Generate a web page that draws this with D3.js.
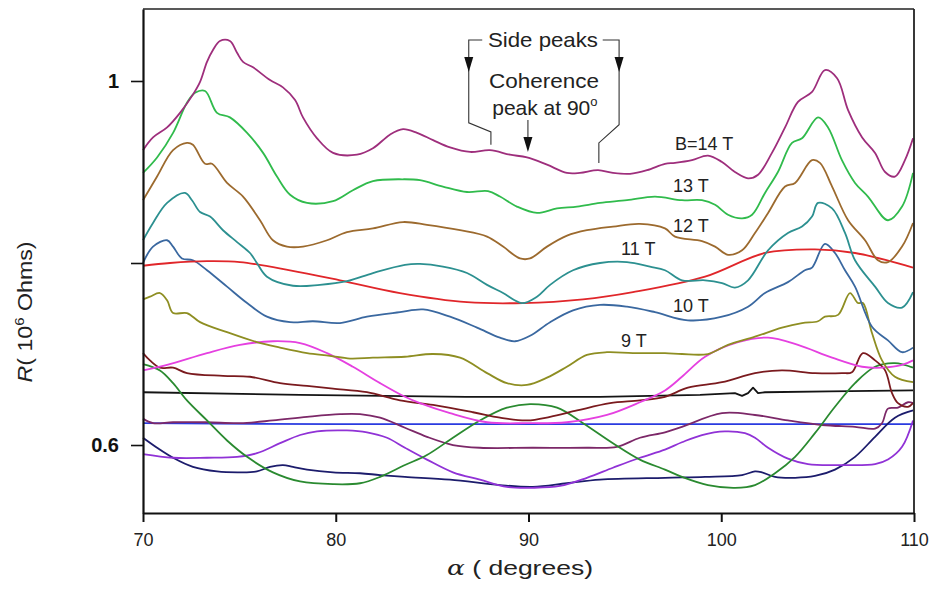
<!DOCTYPE html>
<html><head><meta charset="utf-8">
<script src="https://cdn.jsdelivr.net/npm/d3@7"></script>
<style>
html,body{margin:0;padding:0;background:#fff;}
text{font-family:"Liberation Sans",Arial,sans-serif;}
</style></head>
<body><svg id="chart" width="936" height="592"></svg>
<script>
// ---- data: [angle (deg), R (10^6 Ohms)] ----
const r14T = [[70,0.924],[70.52,0.938],[71.25,0.949],[71.92,0.965],[72.59,0.985],[72.96,0.999],[73.32,1.021],[73.63,1.034],[73.99,1.044],[74.51,1.044],[74.88,1.031],[75.19,1.021],[75.71,1.015],[76.59,1.001],[77.26,0.993],[77.89,0.979],[78.3,0.96],[79.03,0.937],[79.86,0.921],[81.1,0.919],[81.93,0.926],[82.81,0.941],[83.49,0.947],[84.22,0.943],[85.05,0.935],[85.93,0.927],[86.97,0.922],[88,0.924],[89.04,0.919],[89.92,0.916],[90.96,0.908],[91.99,0.899],[92.67,0.899],[93.61,0.902],[94.38,0.899],[95.27,0.898],[96.15,0.902],[97.08,0.909],[97.6,0.91],[98.48,0.913],[99.31,0.918],[100.04,0.911],[100.71,0.9],[101.39,0.893],[101.91,0.897],[102.63,0.921],[103.31,0.949],[103.98,0.977],[104.71,0.988],[105.38,1.012],[106.01,1.003],[106.58,0.968],[107.31,0.938],[107.98,0.921],[108.5,0.9],[109.01,0.895],[109.53,0.913],[109.95,0.937]];
const r13T = [[70,0.899],[70.73,0.916],[71.56,0.943],[72.28,0.976],[72.7,0.987],[73.22,0.989],[73.84,0.965],[74.51,0.96],[75.4,0.943],[76.23,0.921],[76.95,0.895],[77.63,0.875],[78.51,0.866],[79.86,0.868],[80.89,0.88],[81.93,0.89],[83.49,0.892],[84.37,0.891],[85.56,0.884],[86.81,0.878],[87.9,0.879],[88.52,0.873],[89.4,0.862],[90.44,0.855],[91.48,0.86],[92.52,0.862],[93.71,0.866],[95.11,0.869],[96.56,0.873],[97.96,0.869],[99,0.869],[99.68,0.864],[100.35,0.853],[101.08,0.849],[101.6,0.853],[102.27,0.877],[102.94,0.9],[103.67,0.932],[104.19,0.937],[105.02,0.96],[105.54,0.949],[106.26,0.913],[106.94,0.888],[107.61,0.873],[108.65,0.847],[109.38,0.862],[109.95,0.899]];
const r12T = [[70,0.869],[70.73,0.895],[71.56,0.924],[72.28,0.932],[72.59,0.93],[73.22,0.909],[73.58,0.909],[74.36,0.888],[75.19,0.873],[76.07,0.847],[76.74,0.825],[77.47,0.818],[78.3,0.818],[79.55,0.825],[80.58,0.834],[81.93,0.838],[83.49,0.845],[84.73,0.842],[86.45,0.836],[87.85,0.829],[88.68,0.818],[89.56,0.805],[90.08,0.805],[90.96,0.818],[92,0.83],[93.03,0.836],[94.38,0.84],[95.78,0.843],[97.08,0.838],[97.6,0.829],[99,0.824],[99.68,0.818],[100.35,0.809],[101.08,0.814],[101.75,0.833],[102.43,0.855],[103.31,0.884],[103.83,0.888],[104.71,0.913],[105.12,0.91],[105.75,0.884],[106.58,0.847],[107.46,0.825],[108.13,0.803],[108.65,0.801],[109.38,0.818],[109.95,0.844]];
const r11T = [[70,0.825],[70.52,0.844],[71.25,0.866],[72.18,0.877],[72.54,0.869],[72.96,0.856],[73.48,0.851],[74.15,0.836],[74.88,0.823],[75.55,0.811],[75.91,0.8],[76.43,0.785],[77.78,0.775],[79.18,0.776],[80.58,0.78],[81.93,0.789],[83.59,0.798],[84.37,0.799],[85.56,0.796],[86.81,0.789],[87.85,0.776],[88.68,0.767],[89.66,0.756],[90.44,0.763],[91.12,0.776],[92.31,0.792],[93.71,0.8],[95.11,0.801],[96.3,0.796],[97.08,0.792],[97.96,0.781],[99.16,0.781],[100.04,0.778],[100.71,0.773],[101.39,0.781],[102.43,0.814],[103.46,0.833],[104.19,0.84],[104.71,0.851],[105.02,0.866],[105.75,0.86],[106.42,0.833],[106.94,0.803],[107.98,0.774],[108.65,0.756],[109.38,0.751],[109.95,0.768]];
const rRed = [[70,0.797],[71.4,0.8],[73.32,0.802],[75.03,0.801],[77.63,0.792],[80.22,0.781],[83.33,0.767],[86.81,0.757],[89.71,0.756],[92.83,0.76],[95.42,0.768],[99.16,0.785],[102.27,0.811],[104.86,0.815],[106.94,0.811],[109.95,0.795]];
const r10T = [[70,0.8],[70.52,0.818],[71.25,0.825],[71.56,0.818],[72.02,0.805],[72.59,0.803],[73.32,0.792],[74.36,0.774],[75.4,0.756],[76.43,0.741],[77.63,0.735],[78.82,0.736],[80.22,0.734],[81.62,0.741],[83.33,0.746],[84.53,0.749],[85.93,0.741],[87.33,0.729],[88.52,0.718],[89.3,0.714],[90.08,0.72],[91.12,0.735],[92.31,0.748],[93.71,0.754],[95.11,0.752],[96.56,0.746],[98.27,0.737],[100.04,0.741],[101.39,0.752],[102.27,0.767],[103.46,0.779],[104.34,0.792],[104.71,0.795],[105.38,0.821],[105.9,0.811],[106.42,0.792],[106.94,0.774],[107.82,0.73],[108.65,0.715],[109.38,0.702],[109.95,0.707]];
const r9T = [[70,0.76],[70.36,0.763],[70.88,0.767],[71.25,0.759],[71.56,0.745],[72.28,0.745],[72.96,0.735],[74.36,0.724],[75.91,0.713],[77.11,0.707],[78.51,0.701],[79.7,0.698],[80.74,0.695],[81.93,0.696],[83.59,0.697],[85.05,0.7],[86.45,0.696],[87.85,0.679],[88.88,0.668],[89.92,0.666],[90.96,0.674],[91.99,0.686],[93.03,0.699],[94.07,0.702],[95.42,0.701],[97.08,0.701],[97.96,0.7],[99.31,0.7],[100.35,0.71],[101.75,0.719],[103.15,0.729],[104.19,0.734],[105.02,0.736],[105.38,0.741],[106.06,0.743],[106.68,0.767],[107.09,0.756],[107.35,0.756],[107.82,0.723],[108.34,0.693],[109.01,0.675],[109.95,0.669]];
const rMagenta = [[70,0.682],[71.25,0.688],[73.32,0.701],[75.03,0.71],[76.74,0.714],[78.15,0.712],[79.55,0.701],[80.89,0.686],[82.3,0.668],[83.59,0.653],[84.37,0.646],[85.93,0.635],[87.85,0.625],[89.92,0.624],[91.99,0.625],[94.07,0.633],[95.78,0.647],[97.08,0.66],[97.96,0.675],[99.16,0.697],[100.87,0.713],[102.43,0.718],[103.98,0.71],[105.75,0.696],[107.31,0.686],[108.34,0.685],[109.38,0.688],[109.95,0.693]];
const rMaroon = [[70,0.701],[70.36,0.693],[70.88,0.685],[71.56,0.685],[72.28,0.679],[74.15,0.676],[75.55,0.675],[77.11,0.668],[78.51,0.665],[79.86,0.662],[81.62,0.658],[83.33,0.649],[85.05,0.644],[87.12,0.636],[88.52,0.63],[89.92,0.627],[91.12,0.631],[92.52,0.638],[94.23,0.646],[95.78,0.649],[97.08,0.653],[98.27,0.663],[100.04,0.669],[101.75,0.679],[103.15,0.682],[104.86,0.679],[106.26,0.679],[106.78,0.68],[107.35,0.701],[107.98,0.693],[108.5,0.682],[108.86,0.657],[109.17,0.646],[109.69,0.642],[109.95,0.646]];
const rBlack = [[70,0.658],[78.15,0.655],[86.76,0.653],[93.71,0.653],[98.9,0.655],[100.71,0.657],[101.08,0.654],[101.39,0.657],[101.65,0.663],[101.91,0.657],[102.27,0.658],[105.6,0.659],[109.95,0.66]];
const rBlue = [[70,0.624],[80,0.623],[90,0.623],[100,0.623],[110,0.623]];
const rGreen = [[70,0.689],[70.88,0.682],[71.56,0.668],[72.28,0.649],[73.32,0.627],[74.36,0.605],[75.4,0.587],[76.74,0.57],[78.15,0.56],[79.86,0.557],[81.26,0.558],[82.3,0.565],[83.59,0.578],[84.73,0.589],[86.08,0.608],[87.48,0.627],[88.88,0.641],[90.08,0.645],[91.48,0.641],[92.83,0.624],[94.38,0.602],[95.78,0.584],[97.08,0.573],[97.96,0.565],[99.31,0.556],[100.71,0.553],[101.75,0.556],[102.79,0.569],[103.83,0.587],[104.86,0.613],[105.9,0.642],[106.94,0.668],[107.98,0.686],[109.01,0.69],[109.95,0.685]];
const rPurple = [[70,0.629],[70.52,0.624],[71.56,0.625],[73.32,0.625],[75.03,0.624],[76.74,0.627],[78.51,0.631],[80.22,0.634],[81.26,0.634],[82.3,0.63],[83.59,0.619],[84.73,0.609],[86.08,0.6],[87.48,0.597],[90.23,0.597],[93.03,0.597],[94.59,0.598],[95.78,0.608],[97.08,0.614],[97.96,0.62],[100.04,0.635],[101.75,0.633],[103.46,0.627],[105.23,0.622],[106.94,0.62],[107.98,0.618],[108.34,0.624],[108.65,0.64],[109.17,0.641],[109.69,0.647],[109.95,0.646]];
const rViolet = [[70,0.59],[71.56,0.586],[73.32,0.586],[74.88,0.587],[75.91,0.591],[77.11,0.602],[78.15,0.611],[79.03,0.615],[80.58,0.616],[81.62,0.614],[82.66,0.608],[83.59,0.597],[84.73,0.584],[86.08,0.57],[87.48,0.562],[88.88,0.554],[90.23,0.553],[91.63,0.555],[93.03,0.564],[94.38,0.575],[95.78,0.586],[97.08,0.595],[97.96,0.603],[99,0.611],[100.19,0.615],[101.23,0.613],[101.75,0.608],[102.43,0.597],[103.46,0.585],[104.5,0.579],[106.26,0.578],[107.98,0.579],[108.65,0.584],[109.38,0.598],[109.95,0.627]];
const rNavy = [[70,0.608],[70.73,0.597],[71.56,0.586],[72.59,0.576],[73.84,0.571],[75.03,0.57],[75.91,0.571],[76.59,0.576],[77.26,0.578],[77.78,0.576],[78.51,0.573],[79.86,0.57],[81.26,0.569],[82.3,0.567],[83.59,0.565],[85.93,0.562],[88.52,0.556],[90.23,0.554],[91.99,0.558],[93.71,0.562],[97.08,0.564],[99.16,0.565],[101.08,0.567],[101.75,0.571],[102.11,0.57],[102.79,0.565],[103.83,0.564],[104.86,0.566],[105.9,0.573],[106.94,0.587],[107.98,0.609],[109.01,0.63],[109.95,0.638]];

const xTicks = [70, 80, 90, 100, 110];
const yTicks = [0.6, 0.8, 1.0];
const yTickLabels = ["0.6", "", "1"];
// curve labels: [text, angle, R]
const curveLabels = [["B=14 T",97.6,0.924],["13 T",97.5,0.878],["12 T",97.5,0.834],["11 T",94.8,0.809],["10 T",97.5,0.746],["9 T",94.8,0.708]];

const seriesList = [
  {d:rBlue, c:"#2a3be0", w:1.8},
  {d:rBlack, c:"#141414", w:1.8, lin:true},
  {d:rNavy, c:"#1c1c6c", w:1.8},
  {d:rViolet, c:"#9032d6", w:1.8},
  {d:rPurple, c:"#7c2868", w:1.8},
  {d:rGreen, c:"#2a8a30", w:1.8},
  {d:rMaroon, c:"#7a1a1e", w:1.8},
  {d:rMagenta, c:"#e540e0", w:1.8},
  {d:r9T, c:"#8e8e22", w:1.8},
  {d:r10T, c:"#3a68a0", w:1.8},
  {d:rRed, c:"#e0262a", w:1.8},
  {d:r11T, c:"#2c9090", w:1.8},
  {d:r12T, c:"#9c6a2e", w:1.8},
  {d:r13T, c:"#30bb4c", w:1.8},
  {d:r14T, c:"#9e2e7c", w:1.8}
];

const svg = d3.select("#chart");
const L = 143, R = 914, T = 9, B = 513;
const x = d3.scaleLinear().domain([70, 110]).range([L, R]);
const y = d3.scaleLinear().domain([0.5253, 1.0791]).range([B, T]);

const g = svg.append("g");
const lineLin = d3.line().x(d => x(d[0])).y(d => y(d[1])).curve(d3.curveLinear);
const lineSmooth = d3.line().x(d => x(d[0])).y(d => y(d[1])).curve(d3.curveCatmullRom.alpha(0.5));

seriesList.forEach(s => {
  g.append("path").datum(s.d)
    .attr("fill", "none").attr("stroke", s.c).attr("stroke-width", s.w)
    .attr("stroke-linejoin", "round")
    .attr("d", s.lin ? lineLin : lineSmooth);
});

// frame
svg.append("line").attr("x1", L).attr("x2", R).attr("y1", T).attr("y2", T).attr("stroke", "#222").attr("stroke-width", 1.6);
svg.append("line").attr("x1", R).attr("x2", R).attr("y1", T).attr("y2", B).attr("stroke", "#222").attr("stroke-width", 1.8);

// axes
const xAxis = d3.axisBottom(x).tickValues(xTicks).tickSize(9).tickSizeOuter(0).tickPadding(6);
const xg = svg.append("g").attr("transform", `translate(0,${B})`).call(xAxis);
xg.select(".domain").attr("stroke", "#111").attr("stroke-width", 2.2);
xg.selectAll(".tick line").attr("stroke", "#111").attr("stroke-width", 2);
xg.selectAll(".tick text").attr("font-size", 18).attr("fill", "#222").attr("font-family", "Liberation Sans, Arial, sans-serif").attr("dy", "1.0em");

const yAxis = d3.axisLeft(y).tickValues(yTicks).tickFormat((d, i) => yTickLabels[i]).tickSize(12).tickSizeOuter(0).tickPadding(12);
const yg = svg.append("g").attr("transform", `translate(${L},0)`).call(yAxis);
yg.select(".domain").attr("stroke", "#111").attr("stroke-width", 2.2);
yg.selectAll(".tick line").attr("stroke", "#111").attr("stroke-width", 1.6);
yg.selectAll(".tick text").attr("font-size", 20).attr("font-weight", "bold").attr("fill", "#111").attr("font-family", "Liberation Sans, Arial, sans-serif");

// axis titles
const yt = svg.append("text").attr("transform", `translate(32,${312}) rotate(-90)`)
  .attr("text-anchor", "middle").attr("font-size", 20).attr("fill", "#222")
  .attr("textLength", 141).attr("lengthAdjust", "spacingAndGlyphs");
yt.append("tspan").attr("font-style", "italic").text("R");
yt.append("tspan").text("( 10");
yt.append("tspan").attr("font-size", 13).attr("dy", -8).text("6");
yt.append("tspan").attr("dy", 8).text(" Ohms)");

const xt = svg.append("text").attr("x", 520).attr("y", 575)
  .attr("text-anchor", "middle").attr("font-size", 20).attr("fill", "#222")
  .attr("textLength", 146).attr("lengthAdjust", "spacingAndGlyphs");
xt.append("tspan").attr("font-style", "italic").attr("font-family", "DejaVu Serif, serif").text("α");
xt.append("tspan").text(" ( degrees)");

// curve labels
curveLabels.forEach(l => {
  svg.append("text").attr("x", x(l[1])).attr("y", y(l[2]))
    .attr("font-size", 18).attr("fill", "#222").text(l[0]);
});

// annotations
const ann = svg.append("g").attr("stroke", "#333").attr("stroke-width", 1.1).attr("fill", "none");
const al = d3.line().x(d => x(d[0])).y(d => y(d[1]));
const leftBr = [[87.6,1.045],[86.9,1.045],[86.9,0.954],[88.05,0.944],[88.05,0.930]];
const rightBr = [[93.85,1.045],[94.7,1.045],[94.7,0.952],[93.65,0.932],[93.65,0.910]];
const centerArr = [[89.97,0.957],[89.97,0.925]];
ann.append("path").datum(leftBr).attr("d", al);
ann.append("path").datum(rightBr).attr("d", al);
ann.append("path").datum(centerArr).attr("d", al);
function arrowHead(a, vTip) {
  const cx = x(a), cy = y(vTip);
  svg.append("path").attr("d", `M${cx},${cy} L${cx-4.5},${cy-15} L${cx+4.5},${cy-15} Z`).attr("fill", "#111");
}
arrowHead(86.9, 1.010);
arrowHead(94.7, 1.010);
arrowHead(89.97, 0.922);

svg.append("text").attr("x", x(90.75)).attr("y", y(1.037)).attr("text-anchor", "middle")
  .attr("font-size", 21).attr("fill", "#222").attr("textLength", 110).attr("lengthAdjust", "spacingAndGlyphs").text("Side peaks");
svg.append("text").attr("x", x(90.8)).attr("y", y(0.992)).attr("text-anchor", "middle")
  .attr("font-size", 21).attr("fill", "#222").attr("textLength", 110).attr("lengthAdjust", "spacingAndGlyphs").text("Coherence");
const pk = svg.append("text").attr("x", x(90.85)).attr("y", y(0.963)).attr("text-anchor", "middle")
  .attr("font-size", 21).attr("fill", "#222");
pk.append("tspan").text("peak at 90");
pk.append("tspan").attr("font-size", 13).attr("dy", -9).text("o");
</script>
</body></html>
